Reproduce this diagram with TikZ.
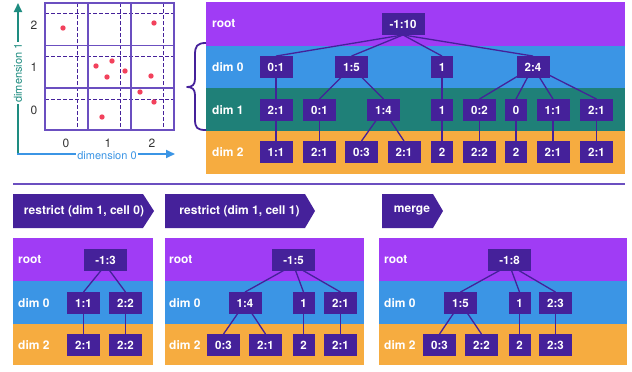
\documentclass[tikz,border=0pt]{standalone}
\usepackage{fontspec}
\setmainfont{TeX Gyre Heros}
\usetikzlibrary{arrows.meta}
\definecolor{cRoot}{HTML}{A03CF5}
\definecolor{cDimA}{HTML}{3B95E5}
\definecolor{cDimB}{HTML}{1F8078}
\definecolor{cDimC}{HTML}{F6AC40}
\definecolor{cNode}{HTML}{45219A}
\definecolor{cGrid}{HTML}{6B4FC0}
\definecolor{cDot}{HTML}{F2415C}
\definecolor{cTeal}{HTML}{1E8C80}
\definecolor{cBlue}{HTML}{3B95E5}
\definecolor{cNum}{HTML}{333333}
\pgfdeclarelayer{bg}
\pgfdeclarelayer{edges}
\pgfsetlayers{bg,edges,main}
\tikzset{
  nd/.style={fill=cNode, text=white, font=\bfseries\fontsize{11.5}{12}\selectfont, minimum height=21.5pt, inner sep=0pt, minimum width=33pt},
  wd/.style={nd, minimum width=43pt},
  sn/.style={nd, minimum width=22pt},
  lbl/.style={anchor=west, text=white, font=\bfseries\fontsize{12}{13}\selectfont, inner sep=0pt},
  edge/.style={draw=cNode, line width=1.3pt},
  banner/.style={fill=cNode, draw=none},
  bantext/.style={text=white, font=\bfseries\fontsize{12}{13}\selectfont, inner sep=0pt},
  num/.style={text=cNum, font=\fontsize{12}{13}\selectfont, inner sep=0pt},
  gridsolid/.style={draw=cGrid, line width=1.3pt},
  griddash/.style={draw=cNode, line width=1pt, dash pattern=on 3.5pt off 2.5pt},
  dot/.style={fill=cDot, draw=none}
}
\begin{document}
\begin{tikzpicture}[x=1pt,y=-1pt]
\useasboundingbox (0,0) rectangle (632,372);

% ---------- grid plot ----------
\foreach \x in {77,120,163} \draw[griddash] (\x,3) -- (\x,130);
\foreach \y in {13,56,99} \draw[griddash] (45,\y) -- (174,\y);
\foreach \x in {88,131} \draw[gridsolid] (\x,3) -- (\x,130);
\foreach \y in {45.5,88} \draw[gridsolid] (45,\y) -- (174,\y);
\draw[gridsolid] (45,3) rectangle (174,130);
\foreach \p in {(63,28),(154,23),(96,66),(112,61),(125,71),(107,77),(151,76),(140,92),(154,102),(102,117)}
  \fill[dot] \p circle (2.7);
\node[num] (n2) at (34,25) {2};
\node[num] (n1) at (34,67) {1};
\node[num] (n0) at (34,110) {0};
\node[num] (m0) at (66,143) {0};
\node[num] (m1) at (108,143) {1};
\node[num] (m2) at (152,143) {2};
\coordinate (corner) at (18,154);
\coordinate (ytip) at (18,3);
\coordinate (xtip) at (175,154);
\draw[cTeal, line width=1.8pt, -{Triangle[length=9pt,width=8pt]}] (corner) -- (ytip);
\draw[cBlue, line width=1.8pt, -{Triangle[length=9pt,width=8pt]}] ([xshift=-0.9pt]corner) -- (xtip);
\node[fill=white, text=cTeal, rotate=90, inner sep=1.5pt, font=\fontsize{11}{12}\selectfont] (dimA) at (18,73) {dimension 1};
\node[fill=white, text=cBlue, inner sep=1.5pt, font=\fontsize{11}{12}\selectfont] (dimB) at (107,155.5) {dimension 0};

% brace
\draw[cNode, line width=1.8pt, line join=round]
  (206,43) .. controls (197,43) and (195,46) .. (195,55) -- (195,79)
  .. controls (195,85) and (192,87) .. (187,87)
  .. controls (192,87) and (195,89) .. (195,95) -- (195,119)
  .. controls (195,128) and (197,130) .. (206,130);

% ---------- top tree ----------
\begin{pgfonlayer}{bg}
\fill[cRoot] (205.5,2) rectangle (625,45.5);
\fill[cDimA] (205.5,45.5) rectangle (625,88);
\fill[cDimB] (205.5,88) rectangle (625,131);
\fill[cDimC] (205.5,131) rectangle (625,174);
\end{pgfonlayer}
\node[lbl] (lr) at (212,24) {root};
\node[lbl] (l0) at (212,67) {dim 0};
\node[lbl] (l1) at (212,110) {dim 1};
\node[lbl] (l2) at (212,152) {dim 2};

\node[wd] (t0) at (403,24) {-1:10};
\node[nd] (a1) at (276,67) {0:1};
\node[nd] (a2) at (351.5,67) {1:5};
\node[sn] (a3) at (442,67) {1};
\node[nd] (a4) at (533,67) {2:4};
\node[nd] (b1) at (276,110) {2:1};
\node[nd] (b2) at (319.5,110) {0:1};
\node[nd] (b3) at (383.5,110) {1:4};
\node[sn] (b4) at (442,110) {1};
\node[nd] (b5) at (479.5,110) {0:2};
\node[sn] (b6) at (516,110) {0};
\node[nd] (b7) at (553,110) {1:1};
\node[nd] (b8) at (596.5,110) {2:1};
\node[nd] (c1) at (276,152) {1:1};
\node[nd] (c2) at (319.5,152) {2:1};
\node[nd] (c3) at (361.5,152) {0:3};
\node[nd] (c4) at (404,152) {2:1};
\node[sn] (c5) at (442,152) {2};
\node[nd] (c6) at (479.5,152) {2:2};
\node[sn] (c7) at (516,152) {2};
\node[nd] (c8) at (553,152) {2:1};
\node[nd] (c9) at (596.5,152) {2:1};

\begin{pgfonlayer}{edges}
\foreach \c in {a1,a2,a3,a4} \draw[edge] (t0.south) -- (\c.north);
\draw[edge] (a1.center) -- (b1.north);
\draw[edge] (a2.center) -- (b2.north);
\draw[edge] (a2.center) -- (b3.north);
\draw[edge] (a3.center) -- (b4.north);
\foreach \c in {b5,b6,b7,b8} \draw[edge] (a4.center) -- (\c.north);
\draw[edge] (b1.center) -- (c1.north);
\draw[edge] (b2.center) -- (c2.north);
\draw[edge] (b3.center) -- (c3.north);
\draw[edge] (b3.center) -- (c4.north);
\draw[edge] (b4.center) -- (c5.north);
\draw[edge] (b5.center) -- (c6.north);
\draw[edge] (b6.center) -- (c7.north);
\draw[edge] (b7.center) -- (c8.north);
\draw[edge] (b8.center) -- (c9.north);
\end{pgfonlayer}

% separator
\draw[cGrid, line width=1.3pt] (13,184) -- (625,184);

% ---------- banners ----------
\fill[banner] (13,194) -- (143,194) -- (154,211) -- (143,228) -- (13,228) -- cycle;
\node[bantext] (ban1) at (84,211) {restrict (dim 1, cell 0)};
\fill[banner] (165,194) -- (305,194) -- (315,211) -- (305,228) -- (165,228) -- cycle;
\node[bantext] (ban2) at (239.5,211) {restrict (dim 1, cell 1)};
\fill[banner] (382,194) -- (433,194) -- (443,211) -- (433,228) -- (382,228) -- cycle;
\node[bantext] (ban3) at (412,211) {merge};

% ---------- bottom panels ----------
\begin{pgfonlayer}{bg}
\fill[cRoot] (13,238) rectangle (153,281);
\fill[cDimA] (13,281) rectangle (153,324);
\fill[cDimC] (13,324) rectangle (153,365);
\fill[cRoot] (165,238) rectangle (364,281);
\fill[cDimA] (165,281) rectangle (364,324);
\fill[cDimC] (165,324) rectangle (364,365);
\fill[cRoot] (379,238) rectangle (627,281);
\fill[cDimA] (379,281) rectangle (627,324);
\fill[cDimC] (379,324) rectangle (627,365);
\end{pgfonlayer}
\node[lbl] (q1r) at (18,260) {root};
\node[lbl] (q1a) at (18,303) {dim 0};
\node[lbl] (q1b) at (18,345) {dim 2};
\node[lbl] (q2r) at (169,260) {root};
\node[lbl] (q2a) at (169,303) {dim 0};
\node[lbl] (q2b) at (169,345) {dim 2};
\node[lbl] (q3r) at (384,260) {root};
\node[lbl] (q3a) at (384,303) {dim 0};
\node[lbl] (q3b) at (384,345) {dim 2};

\node[wd] (p1r) at (105.5,260) {-1:3};
\node[nd] (p1a) at (83.5,303) {1:1};
\node[nd] (p1b) at (125.5,303) {2:2};
\node[nd] (p1c) at (83.5,345) {2:1};
\node[nd] (p1d) at (125.5,345) {2:2};

\node[wd] (p2r) at (293.5,260) {-1:5};
\node[nd] (p2a) at (245,303) {1:4};
\node[sn] (p2b) at (303.5,303) {1};
\node[nd] (p2c) at (340.5,303) {2:1};
\node[nd] (p2d) at (223.5,345) {0:3};
\node[nd] (p2e) at (265.5,345) {2:1};
\node[sn] (p2f) at (303.5,345) {2};
\node[nd] (p2g) at (340.5,345) {2:1};

\node[wd] (p3r) at (509.5,260) {-1:8};
\node[nd] (p3a) at (460.5,303) {1:5};
\node[sn] (p3b) at (519.5,303) {1};
\node[nd] (p3c) at (555.5,303) {2:3};
\node[nd] (p3d) at (439.5,345) {0:3};
\node[nd] (p3e) at (481.5,345) {2:2};
\node[sn] (p3f) at (519.5,345) {2};
\node[nd] (p3g) at (555.5,345) {2:3};

\begin{pgfonlayer}{edges}
\draw[edge] ([yshift=-5pt]p1r.center) -- (p1a.north);
\draw[edge] ([yshift=-5pt]p1r.center) -- (p1b.north);
\draw[edge] (p1a.center) -- (p1c.north);
\draw[edge] (p1b.center) -- (p1d.north);
\foreach \c in {p2a,p2b,p2c} \draw[edge] ([yshift=-5pt]p2r.center) -- (\c.north);
\draw[edge] (p2a.center) -- (p2d.north);
\draw[edge] (p2a.center) -- (p2e.north);
\draw[edge] (p2b.center) -- (p2f.north);
\draw[edge] (p2c.center) -- (p2g.north);
\foreach \c in {p3a,p3b,p3c} \draw[edge] ([yshift=-5pt]p3r.center) -- (\c.north);
\draw[edge] (p3a.center) -- (p3d.north);
\draw[edge] (p3a.center) -- (p3e.north);
\draw[edge] (p3b.center) -- (p3f.north);
\draw[edge] (p3c.center) -- (p3g.north);
\end{pgfonlayer}
\end{tikzpicture}
\end{document}
